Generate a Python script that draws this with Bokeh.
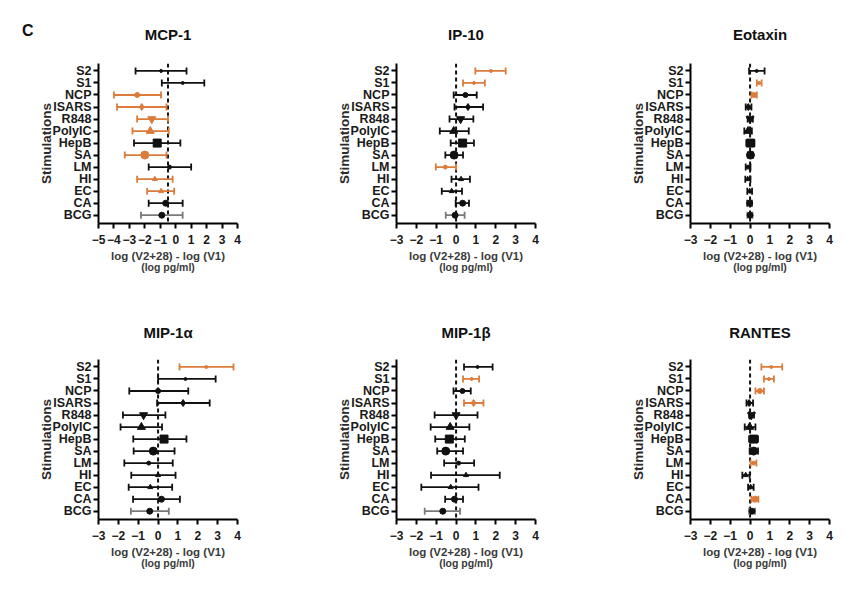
import numpy as np
from bokeh.plotting import figure
from bokeh.models import ColumnDataSource, Span, FixedTicker, LinearAxis, Range1d, Div
from bokeh.layouts import column, row
from bokeh.embed import file_html
from bokeh.resources import INLINE

categories = ["S2", "S1", "NCP", "ISARS", "R848", "PolyIC", "HepB", "SA", "LM", "HI", "EC", "CA", "BCG"]
markers = ["circle", "circle", "circle", "diamond", "inverted_triangle", "triangle", "square",
           "circle", "circle", "triangle", "triangle", "circle", "circle"]
marker_sizes = [3, 3, 5, 7, 8, 8, 8, 8, 4, 5, 5, 6, 6]

# MCP-1
mcp1_mid = [-0.95, 0.45, -2.5, -2.2, -1.55, -1.65, -1.2, -2.0, -0.4, -1.35, -0.95, -0.65, -0.9]
mcp1_lo = [-2.6, -0.9, -4.0, -3.8, -2.5, -2.8, -2.7, -3.3, -1.75, -2.5, -1.85, -1.75, -2.25]
mcp1_hi = [0.7, 1.85, -0.95, -0.6, -0.5, -0.45, 0.3, -0.6, 1.0, -0.2, -0.1, 0.45, 0.45]
mcp1_sig = [0, 0, 1, 1, 1, 1, 0, 1, 0, 1, 1, 0, 0]

# IP-10
ip10_mid = [1.75, 0.9, 0.47, 0.6, 0.23, -0.12, 0.33, -0.1, -0.54, 0.25, -0.22, 0.33, -0.05]
ip10_lo = [0.97, 0.35, -0.12, -0.08, -0.33, -0.82, -0.27, -0.54, -1.02, -0.23, -0.72, -0.02, -0.52]
ip10_hi = [2.5, 1.45, 1.04, 1.36, 0.87, 0.64, 0.9, 0.35, 0.0, 0.7, 0.3, 0.65, 0.43]
ip10_sig = [1, 1, 0, 0, 0, 0, 0, 0, 1, 0, 0, 0, 0]

# Eotaxin
eot_mid = [0.33, 0.46, 0.2, -0.09, 0.0, -0.1, 0.02, 0.02, -0.1, -0.12, -0.02, -0.02, 0.0]
eot_lo = [-0.05, 0.34, 0.07, -0.22, -0.12, -0.29, -0.19, -0.1, -0.22, -0.24, -0.14, -0.14, -0.14]
eot_hi = [0.73, 0.58, 0.34, 0.07, 0.14, 0.09, 0.22, 0.15, 0.02, 0.02, 0.1, 0.09, 0.12]
eot_sig = [0, 1, 1, 0, 0, 0, 0, 0, 0, 0, 0, 0, 0]

# MIP-1alpha
mip1a_mid = [2.43, 1.38, 0.0, 1.26, -0.73, -0.84, 0.3, -0.24, -0.47, 0.0, -0.39, 0.17, -0.42]
mip1a_lo = [1.08, 0.0, -1.45, -0.05, -1.77, -1.89, -1.25, -1.23, -1.7, -1.35, -1.48, -1.26, -1.37]
mip1a_hi = [3.8, 2.9, 1.52, 2.6, 0.37, 0.2, 1.43, 0.83, 0.74, 0.88, 0.71, 1.1, 0.54]
mip1a_sig = [1, 0, 0, 0, 0, 0, 0, 0, 0, 0, 0, 0, 0]

# MIP-1beta
mip1b_mid = [1.08, 0.78, 0.32, 0.88, 0.0, -0.3, -0.34, -0.52, 0.13, 0.5, -0.27, -0.08, -0.67]
mip1b_lo = [0.4, 0.35, -0.13, 0.4, -1.08, -1.28, -1.05, -0.95, -0.6, -1.26, -1.75, -0.55, -1.58]
mip1b_hi = [1.84, 1.16, 0.74, 1.38, 1.08, 0.67, 0.44, 0.35, 0.91, 2.2, 1.13, 0.35, 0.2]
mip1b_sig = [0, 1, 0, 1, 0, 0, 0, 0, 0, 0, 0, 0, 0]

# RANTES
rantes_mid = [1.07, 0.95, 0.49, -0.05, 0.07, -0.02, 0.18, 0.18, 0.18, -0.22, 0.03, 0.25, 0.1]
rantes_lo = [0.57, 0.7, 0.27, -0.18, -0.05, -0.27, -0.05, -0.02, 0.03, -0.39, -0.1, 0.07, -0.05]
rantes_hi = [1.62, 1.2, 0.7, 0.15, 0.2, 0.27, 0.4, 0.4, 0.32, -0.02, 0.18, 0.42, 0.25]
rantes_sig = [1, 1, 1, 0, 0, 0, 0, 0, 1, 0, 0, 1, 0]

titles = ["MCP-1", "IP-10", "Eotaxin", "MIP-1\u03b1", "MIP-1\u03b2", "RANTES"]
x_mins = [-5, -3, -3, -3, -3, -3]
x_max = 4
ref_lines = [-0.5, 0, 0, 0, 0, 0]
panel_letter = "C"

ORANGE = "#DB7B3C"
BLACK = "#111111"
GRAY = "#7a7a7a"
FONT = "Liberation Sans"

LETTER_W = 34
col_left = [98 - LETTER_W, 114, 126]
col_right = [45, 29, 17]
row_top = [63, 72]
row_bottom = [64, 52]
title_standoff = [42, 38]


def make_panel(idx, mid, lo, hi, sig):
    c = idx % 3
    r = idx // 3
    n = len(categories)
    ys = [n - 1 - i for i in range(n)]
    colors = [ORANGE if s else BLACK for s in sig]
    bar_colors = [ORANGE if s else (GRAY if categories[i] == "BCG" else BLACK) for i, s in enumerate(sig)]
    src = ColumnDataSource(dict(y=ys, mid=mid, lo=lo, hi=hi, color=colors, bcolor=bar_colors,
                                marker=markers, size=marker_sizes, cat=categories))
    p = figure(frame_width=139, frame_height=160, output_backend="svg", toolbar_location=None,
               x_range=Range1d(x_mins[idx], x_max), y_range=Range1d(-0.69, 12.62),
               min_border_left=col_left[c], min_border_right=col_right[c],
               min_border_top=row_top[r], min_border_bottom=row_bottom[r], margin=0)
    p.outline_line_color = None
    p.xgrid.visible = False
    p.ygrid.visible = False
    p.title.text = titles[idx]
    p.title.align = "center"
    p.title.text_font = FONT
    p.title.text_font_style = "bold"
    p.title.text_font_size = "15px"
    p.title.text_color = "#111111"
    p.title.standoff = title_standoff[r]

    span = Span(location=ref_lines[idx], dimension="height", line_dash="4 3",
                line_width=2, line_color=BLACK, level="underlay")
    p.add_layout(span)

    p.segment(x0="lo", y0="y", x1="hi", y1="y", source=src, line_color="bcolor", line_width=1.8)
    p.scatter(x="lo", y="y", marker="dash", angle=np.pi / 2, size=7, source=src,
              line_color="bcolor", line_width=1.8)
    p.scatter(x="hi", y="y", marker="dash", angle=np.pi / 2, size=7, source=src,
              line_color="bcolor", line_width=1.8)
    p.scatter(x="mid", y="y", marker="marker", size="size", source=src,
              fill_color="color", line_color="color")

    xa = p.xaxis[0]
    xa.ticker = FixedTicker(ticks=list(range(x_mins[idx], x_max + 1)))
    xa.axis_line_width = 2
    xa.major_tick_line_width = 2
    xa.major_tick_out = 5
    xa.major_tick_in = 0
    xa.minor_tick_line_color = None
    xa.major_label_text_font = FONT
    xa.major_label_text_font_style = "bold"
    xa.major_label_text_font_size = "12px"
    xa.major_label_text_color = "#1a1a1a"
    xa.major_label_standoff = 6
    xa.axis_label = "log (V2+28) - log (V1)"
    xa.axis_label_text_font = FONT
    xa.axis_label_text_font_style = "bold"
    xa.axis_label_text_font_size = "11.5px"
    xa.axis_label_text_color = "#3a3a3a"
    xa.axis_label_standoff = 3

    xa2 = LinearAxis(ticker=FixedTicker(ticks=[]), axis_line_color=None,
                     major_tick_line_color=None, minor_tick_line_color=None,
                     major_label_text_font_size="0px",
                     axis_label="(log pg/ml)", axis_label_text_font=FONT,
                     axis_label_text_font_style="bold", axis_label_text_font_size="10.5px",
                     axis_label_text_color="#3a3a3a", axis_label_standoff=-4)
    p.add_layout(xa2, "below")

    ya = p.yaxis[0]
    ya.ticker = FixedTicker(ticks=ys)
    ya.major_label_overrides = {y: cat for y, cat in zip(ys, categories)}
    ya.axis_line_width = 2
    ya.major_tick_line_width = 2
    ya.major_tick_out = 5
    ya.major_tick_in = 0
    ya.minor_tick_line_color = None
    ya.major_label_text_font = FONT
    ya.major_label_text_font_style = "bold"
    ya.major_label_text_font_size = "12.5px"
    ya.major_label_text_color = "#1a1a1a"
    ya.major_label_standoff = 2
    ya.axis_label = "Stimulations"
    ya.axis_label_text_font = FONT
    ya.axis_label_text_font_style = "bold"
    ya.axis_label_text_font_size = "13.5px"
    ya.axis_label_text_color = "#2a2a2a"
    ya.axis_label_standoff = -4
    return p


data = [
    (mcp1_mid, mcp1_lo, mcp1_hi, mcp1_sig),
    (ip10_mid, ip10_lo, ip10_hi, ip10_sig),
    (eot_mid, eot_lo, eot_hi, eot_sig),
    (mip1a_mid, mip1a_lo, mip1a_hi, mip1a_sig),
    (mip1b_mid, mip1b_lo, mip1b_hi, mip1b_sig),
    (rantes_mid, rantes_lo, rantes_hi, rantes_sig),
]

panels = [make_panel(i, *d) for i, d in enumerate(data)]

letter_top = Div(text=('<div style="position:absolute; left:22px; top:23px; '
                       'font-family:\'Liberation Sans\', Arial, sans-serif; font-weight:bold; '
                       'font-size:16px; color:#111111; line-height:1;">' + panel_letter + '</div>'),
                 width=LETTER_W, height=287, margin=0)
letter_bottom = Div(text="", width=LETTER_W, height=287, margin=0)

layout = column(row(letter_top, *panels[:3], spacing=0), row(letter_bottom, *panels[3:], spacing=0),
                spacing=0)

open("out.html", "w").write(file_html(layout, INLINE))
